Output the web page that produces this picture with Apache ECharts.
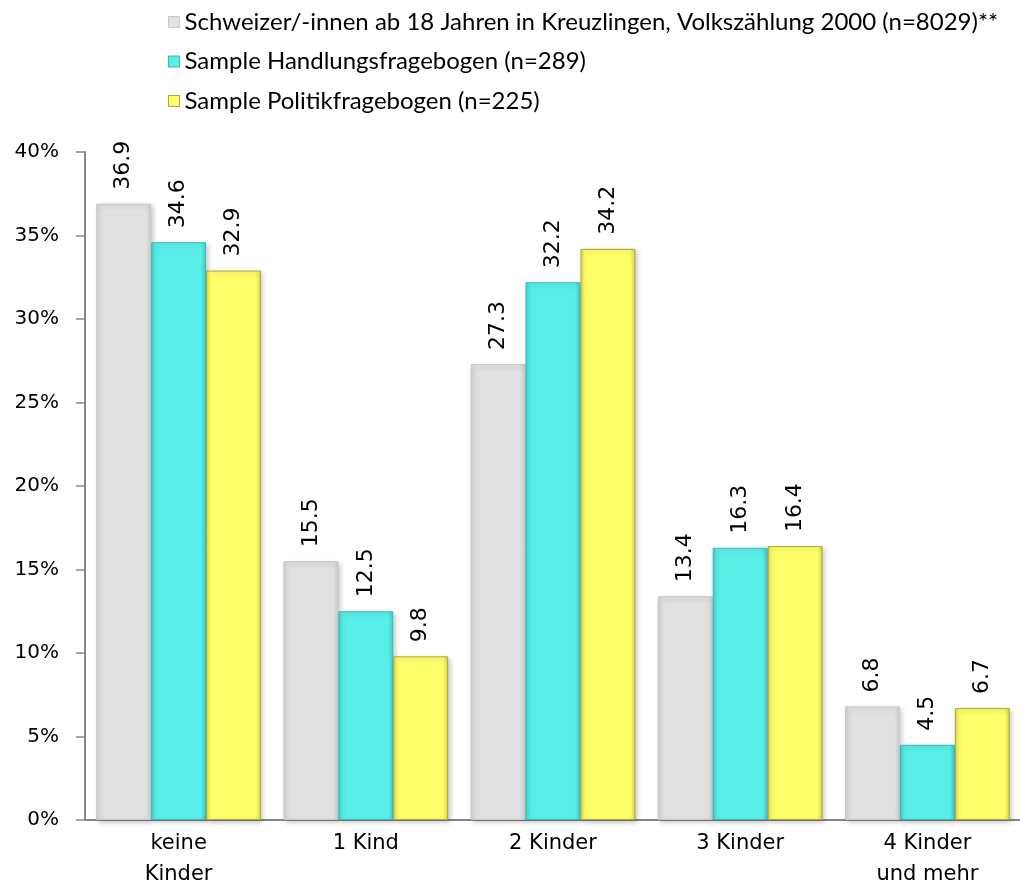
<!DOCTYPE html>
<html>
<head>
<meta charset="utf-8">
<title>Kinder</title>
<script src="https://cdn.jsdelivr.net/npm/echarts@6/dist/echarts.min.js"></script>
<style>
  html, body { margin: 0; padding: 0; background: #ffffff; }
  #chart { width: 1020px; height: 886px; }
</style>
</head>
<body>
<div id="chart"></div>
<script>
// Anzahl Kinder: Vergleich Volkszählung und Stichproben (Anteile in %)
const categories = ['keine\nKinder', '1 Kind', '2 Kinder', '3 Kinder', '4 Kinder\nund mehr'];
const seriesNames = [
  'Schweizer/-innen ab 18 Jahren in Kreuzlingen, Volkszählung 2000 (n=8029)**',
  'Sample Handlungsfragebogen (n=289)',
  'Sample Politikfragebogen (n=225)'
];
const volkszaehlung = [36.9, 15.5, 27.3, 13.4, 6.8];
const handlungsfragebogen = [34.6, 12.5, 32.2, 16.3, 4.5];
const politikfragebogen = [32.9, 9.8, 34.2, 16.4, 6.7];
const yTicks = { min: 0, max: 40, interval: 5 };

// fill colours: edge, face, border
const palette = [
  { edge: '#cfcfcf', face: '#e1e1e1', border: '#c8c8c8' },
  { edge: '#3fcfcf', face: '#5aeee9', border: '#3bb8b8' },
  { edge: '#d8d84a', face: '#ffff6a', border: '#a9a93c' }
];

// horizontal gradient giving the bars a bevelled look
function bevel(p) {
  return new echarts.graphic.LinearGradient(0, 0, 1, 0, [
    { offset: 0, color: p.edge },
    { offset: 0.08, color: p.face },
    { offset: 0.9, color: p.face },
    { offset: 1, color: p.edge }
  ]);
}

const chart = echarts.init(document.getElementById('chart'), null, { renderer: 'canvas' });

const valueLists = [volkszaehlung, handlungsfragebogen, politikfragebogen];

const series = valueLists.map((vals, i) => ({
  name: seriesNames[i],
  type: 'bar',
  data: vals,
  barGap: '0%',
  barCategoryGap: '12%',
  itemStyle: {
    color: bevel(palette[i]),
    borderColor: palette[i].border,
    borderWidth: 1,
    shadowColor: 'rgba(0,0,0,0.22)',
    shadowBlur: 5,
    shadowOffsetX: 2,
    shadowOffsetY: 2
  },
  label: {
    show: true,
    position: 'top',
    distance: 14,
    rotate: 90,
    align: 'left',
    verticalAlign: 'middle',
    fontFamily: 'DejaVu Sans',
    fontSize: 22,
    color: '#000',
    formatter: p => p.value.toFixed(1)
  }
}));

chart.setOption({
  animation: false,
  backgroundColor: '#ffffff',
  textStyle: { fontFamily: 'DejaVu Sans' },
  legend: {
    orient: 'vertical',
    left: 163,
    top: 5,
    itemWidth: 11,
    itemHeight: 11,
    itemGap: 15.5,
    icon: 'rect',
    data: seriesNames.map((n, i) => ({
      name: n,
      itemStyle: { color: palette[i].face, borderColor: palette[i].border, borderWidth: 1 }
    })),
    textStyle: { fontFamily: 'Lato', fontSize: 24, color: '#000', lineHeight: 24 }
  },
  grid: { left: 85, right: -1, top: 152, bottom: 66, outerBoundsMode: 'none', containLabel: false },
  xAxis: {
    type: 'category',
    data: categories,
    axisTick: { show: false },
    axisLine: { lineStyle: { color: '#868686', width: 2 } },
    axisLabel: {
      fontFamily: 'DejaVu Sans',
      fontSize: 21,
      color: '#000',
      lineHeight: 31,
      margin: 8,
      interval: 0
    }
  },
  yAxis: {
    type: 'value',
    min: yTicks.min,
    max: yTicks.max,
    interval: yTicks.interval,
    splitLine: { show: false },
    axisLine: { show: true, lineStyle: { color: '#868686', width: 2 } },
    axisTick: { show: true, length: 9, lineStyle: { color: '#868686', width: 1.5 } },
    axisLabel: {
      formatter: '{value}%',
      fontFamily: 'DejaVu Sans',
      fontSize: 20,
      color: '#000',
      margin: 26
    }
  },
  series: series
});
</script>
</body>
</html>
